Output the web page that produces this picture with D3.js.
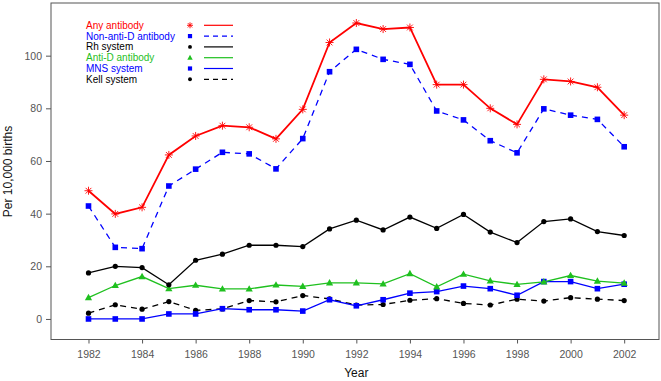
<!DOCTYPE html>
<html>
<head>
<meta charset="utf-8">
<script src="https://cdn.jsdelivr.net/npm/d3@7"></script>
<style>
  body { margin: 0; background: #fff; }
  svg { font-family: "Liberation Sans", Arial, sans-serif; }
</style>
</head>
<body>
<svg id="chart" width="661" height="381"></svg>
<script>
const years = d3.range(1982, 2003);
const xTicks = [1982, 1984, 1986, 1988, 1990, 1992, 1994, 1996, 1998, 2000, 2002];
const yTicks = [0, 20, 40, 60, 80, 100];

const anyAntibody = [48.7, 39.9, 42.4, 62.3, 69.5, 73.4, 72.8, 68.4, 79.6, 105, 112.4, 110.1, 110.7, 89, 89, 80, 73.9, 91, 90.2, 88, 77.4];
const nonAntiD = [42.9, 27.2, 26.7, 50.5, 56.9, 63.3, 62.7, 57, 68.5, 93.9, 102.4, 98.6, 96.7, 79, 75.6, 67.7, 63.1, 79.8, 77.4, 75.8, 65.4];
const rhSystem = [17.5, 20, 19.5, 13, 22.3, 24.6, 28, 28, 27.5, 34.2, 37.5, 33.8, 38.7, 34.4, 39.7, 33, 29, 37, 38, 33.2, 31.7];
const antiD = [8.1, 12.7, 16.1, 11.5, 12.8, 11.4, 11.4, 12.9, 12.4, 13.7, 13.7, 13.3, 17.2, 12.2, 17, 14.5, 13.1, 14.1, 16.5, 14.4, 13.6];
const mnsSystem = [0, 0, 0, 1.9, 1.9, 3.9, 3.5, 3.5, 3, 7.3, 5, 7.3, 9.8, 10.4, 12.5, 11.5, 9, 14.2, 14.2, 11.5, 13.2];
const kellSystem = [2.2, 5.4, 3.7, 6.6, 3.3, 3.8, 7, 6.5, 8.9, 7.6, 5.3, 5.5, 7.1, 7.7, 5.9, 5.3, 7.5, 6.8, 8.1, 7.5, 7];

const seriesNames = ["Any antibody", "Non-anti-D antibody", "Rh system", "Anti-D antibody", "MNS system", "Kell system"];

const red = "#ff0000", blue = "#0000ff", green = "#1fc01f", black = "#000000";

const series = [
  { name: seriesNames[0], values: anyAntibody, color: red, dash: null, mark: "star", width: 1.8 },
  { name: seriesNames[1], values: nonAntiD, color: blue, dash: "6,5", mark: "square", width: 1.3 },
  { name: seriesNames[2], values: rhSystem, color: black, dash: null, mark: "circle", width: 1.3 },
  { name: seriesNames[3], values: antiD, color: green, dash: null, mark: "triangle", width: 1.3 },
  { name: seriesNames[4], values: mnsSystem, color: blue, dash: null, mark: "square", width: 1.3 },
  { name: seriesNames[5], values: kellSystem, color: black, dash: "6,5", mark: "circle", width: 1.3 }
];

const svg = d3.select("#chart");
const box = { left: 51, right: 659, top: 3, bottom: 339.5 };

const x = d3.scaleLinear().domain([1980.6, 2003.3]).range([box.left, box.right]);
const y = d3.scaleLinear().domain([-7.8, 120]).range([box.bottom, box.top]);

// plot frame
svg.append("rect")
  .attr("x", box.left).attr("y", box.top)
  .attr("width", box.right - box.left).attr("height", box.bottom - box.top)
  .attr("fill", "none").attr("stroke", "#555").attr("stroke-width", 1);

const xAxis = svg.append("g")
  .attr("transform", `translate(0,${box.bottom})`)
  .call(d3.axisBottom(x).tickValues(xTicks).tickFormat(d3.format("d")).tickSizeOuter(0).tickSize(4).tickPadding(7));
const yAxis = svg.append("g")
  .attr("transform", `translate(${box.left},0)`)
  .call(d3.axisLeft(y).tickValues(yTicks).tickSizeOuter(0).tickSize(5).tickPadding(4));

[xAxis, yAxis].forEach(g => {
  g.select(".domain").remove();
  g.selectAll("line").attr("stroke", "#555");
  g.selectAll("text").attr("fill", "#555").style("font-size", "10.5px");
});

svg.append("text")
  .attr("x", x(1992)).attr("y", 377)
  .attr("text-anchor", "middle")
  .style("font-size", "12px").attr("fill", "#111")
  .text("Year");

svg.append("text")
  .attr("transform", `translate(12,${y(56)}) rotate(-90)`)
  .attr("text-anchor", "middle")
  .style("font-size", "12px").attr("fill", "#111")
  .text("Per 10,000 births");

function drawMark(g, type, cx, cy, color, k = 1) {
  if (type === "star") {
    const r = 4 * k;
    const d = r * 0.72;
    g.append("path")
      .attr("d", `M${cx - r},${cy}H${cx + r}M${cx},${cy - r}V${cy + r}M${cx - d},${cy - d}L${cx + d},${cy + d}M${cx - d},${cy + d}L${cx + d},${cy - d}`)
      .attr("stroke", color).attr("stroke-width", 0.9).attr("fill", "none");
  } else if (type === "square") {
    const h = 2.8 * k;
    g.append("rect").attr("x", cx - h).attr("y", cy - h).attr("width", 2 * h).attr("height", 2 * h).attr("fill", color);
  } else if (type === "circle") {
    g.append("circle").attr("cx", cx).attr("cy", cy).attr("r", 2.6 * k).attr("fill", color);
  } else if (type === "triangle") {
    g.append("path").attr("d", `M${cx},${cy - 3.8 * k}L${cx + 3.6 * k},${cy + 2.6 * k}L${cx - 3.6 * k},${cy + 2.6 * k}Z`).attr("fill", color);
  }
}

const line = d3.line().x((d, i) => x(years[i])).y(d => y(d));

// draw from bottom layers up so red sits on top
series.slice().reverse().forEach(s => {
  const g = svg.append("g");
  g.append("path")
    .datum(s.values)
    .attr("d", line)
    .attr("fill", "none")
    .attr("stroke", s.color)
    .attr("stroke-width", s.width)
    .attr("stroke-dasharray", s.dash);
  s.values.forEach((v, i) => drawMark(g, s.mark, x(years[i]), y(v), s.color));
});

// legend
const legend = svg.append("g");
series.forEach((s, i) => {
  const ly = 25.3 + i * 10.8;
  legend.append("text")
    .attr("x", 86).attr("y", ly).attr("dy", "0.35em")
    .style("font-size", "10px").attr("fill", s.color)
    .text(s.name);
  drawMark(legend, s.mark, 190, ly, s.color, 0.75);
  legend.append("line")
    .attr("x1", 204).attr("x2", 233).attr("y1", ly).attr("y2", ly)
    .attr("stroke", s.color).attr("stroke-width", 1.2)
    .attr("stroke-dasharray", s.dash ? "5,4" : null);
});
</script>
</body>
</html>
